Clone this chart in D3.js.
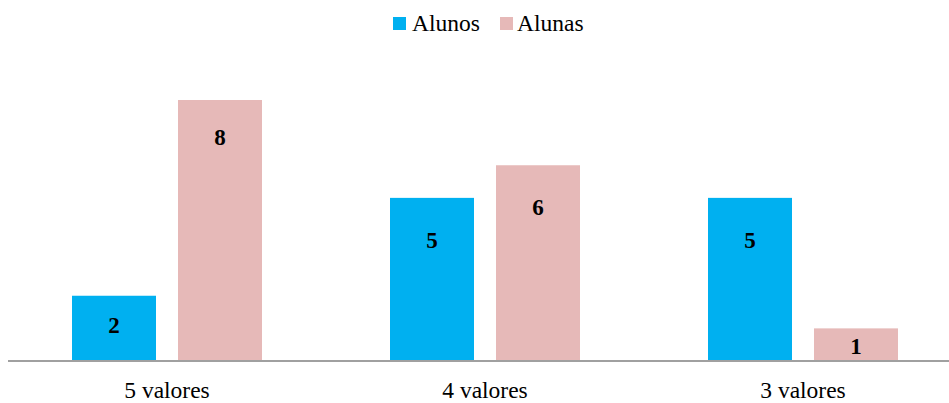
<!DOCTYPE html>
<html>
<head>
<meta charset="utf-8">
<script src="https://cdn.jsdelivr.net/npm/d3@7"></script>
<style>
  html, body { margin: 0; padding: 0; background: #fff; }
  svg { display: block; }
  svg text { font-family: "Liberation Serif", "Times New Roman", Times, "DejaVu Serif", serif !important; }
</style>
</head>
<body>
<svg id="chart" width="949" height="403"></svg>
<script>
const categories = ["5 valores", "4 valores", "3 valores"];
const seriesNames = ["Alunos", "Alunas"];
const alunos = [2, 5, 5];
const alunas = [8, 6, 1];
const colors = ["#00B0F0", "#E6B9B8"];

const FONT = '"Liberation Serif", "Times New Roman", Times, "DejaVu Serif", serif';
const svg = d3.select("#chart");
const W = 949, H = 403;

const x0 = d3.scaleBand().domain(categories).range([8, 962]).paddingInner(0).paddingOuter(0);
const x1 = d3.scaleBand().domain(seriesNames).range([64, 254]).paddingInner(22 / 106).paddingOuter(0);
const y = d3.scaleLinear().domain([0, 8]).range([361, 100]);

const valuesBySeries = [alunos, alunas];

const groups = svg.selectAll("g.grp").data(categories).enter().append("g")
  .attr("class", "grp")
  .attr("transform", d => `translate(${x0(d)},0)`);

groups.each(function(cat, ci) {
  const g = d3.select(this);
  seriesNames.forEach((s, si) => {
    const v = valuesBySeries[si][ci];
    g.append("rect")
      .attr("x", x1(s))
      .attr("y", y(v))
      .attr("width", x1.bandwidth())
      .attr("height", y(0) - y(v))
      .attr("fill", colors[si]);
    const h = y(0) - y(v);
    const off = h > 220 ? 37 : Math.min(Math.max(h * 0.45, 18), 42);
    g.append("text")
      .attr("x", x1(s) + x1.bandwidth() / 2)
      .attr("y", y(v) + off)
      .attr("dy", "0.35em")
      .attr("text-anchor", "middle")
      .attr("font-family", FONT)
      .attr("font-size", 23)
      .attr("font-weight", "bold")
      .attr("fill", "#000")
      .text(v);
  });
});

// x axis
const xAxis = d3.axisBottom(x0).tickSize(0).tickPadding(0);
const axg = svg.append("g").attr("transform", `translate(0,${y(0)})`).call(xAxis);
axg.attr("font-family", FONT).attr("font-size", 23.5);
axg.select(".domain").attr("stroke", "#A0A0A0").attr("stroke-width", 2).attr("d", `M8,0H${W}`);
axg.selectAll(".tick text")
  .attr("fill", "#000")
  .attr("dy", 0)
  .attr("y", 37);

// legend
const legendItems = [{name: seriesNames[0], sx: 393, tx: 412}, {name: seriesNames[1], sx: 500, tx: 517}];
const lg = svg.append("g");
legendItems.forEach((it, i) => {
  lg.append("rect").attr("x", it.sx).attr("y", 17).attr("width", 13).attr("height", 13).attr("fill", colors[i]);
  lg.append("text").attr("x", it.tx).attr("y", 31).attr("font-family", FONT).attr("font-size", 23.5).attr("fill", "#000").text(it.name);
});
</script>
</body>
</html>
